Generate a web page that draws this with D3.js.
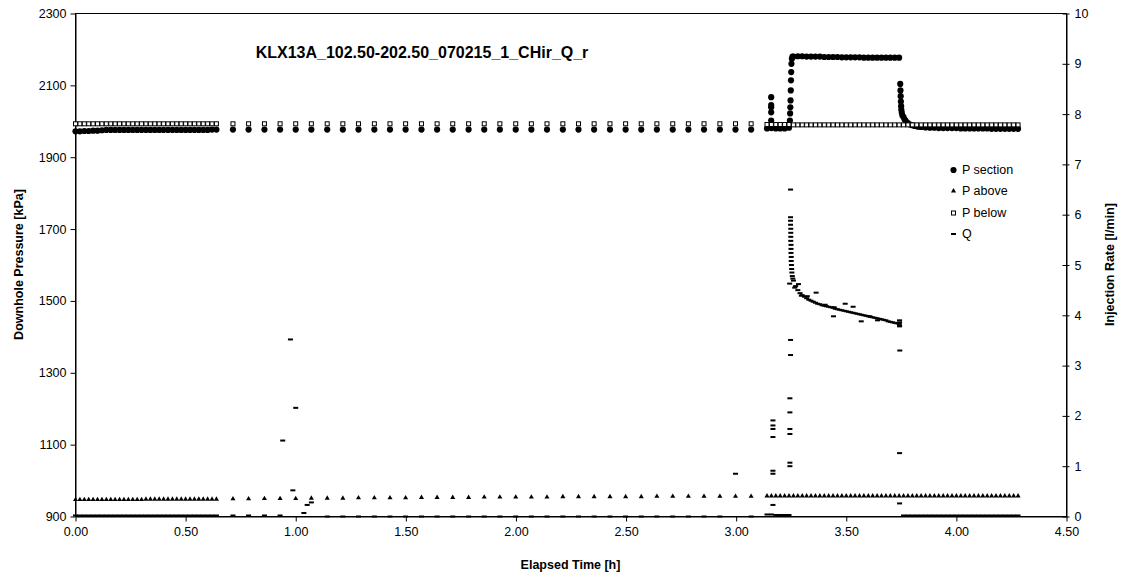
<!DOCTYPE html>
<html>
<head>
<meta charset="utf-8">
<script src="https://cdn.jsdelivr.net/npm/d3@7"></script>
<style>
  html, body { margin: 0; padding: 0; background: #fff; }
  svg { display: block; font-family: "Liberation Sans", Arial, sans-serif; }
</style>
</head>
<body>
<svg id="chart" width="1123" height="579"></svg>
<script>
// ---- Test KLX13A, section 102.50-202.50 m, injection test 2007-02-15 ----

const chartTitle = "KLX13A_102.50-202.50_070215_1_CHir_Q_r";
const seriesNames = ["P section", "P above", "P below", "Q"];

const timeTicks = [0, 0.5, 1, 1.5, 2, 2.5, 3, 3.5, 4, 4.5];
const pressureTicks = [900, 1100, 1300, 1500, 1700, 1900, 2100, 2300];
const rateTicks = [0, 1, 2, 3, 4, 5, 6, 7, 8, 9, 10];

// Logger readings before the injection (hours)
const hoursRest = [
  0.000, 0.020, 0.040, 0.060, 0.080, 0.100, 0.120, 0.140, 0.160, 0.180,
  0.200, 0.220, 0.240, 0.260, 0.280, 0.300, 0.320, 0.340, 0.360, 0.380,
  0.400, 0.420, 0.440, 0.460, 0.480, 0.500, 0.520, 0.540, 0.560, 0.580,
  0.600, 0.620, 0.640,
  0.715, 0.786, 0.858, 0.929, 1.000, 1.071, 1.143, 1.214, 1.285, 1.357,
  1.428, 1.499, 1.571, 1.642, 1.713, 1.785, 1.856, 1.927, 1.999, 2.070,
  2.141, 2.213, 2.284, 2.355, 2.427, 2.498, 2.569, 2.640, 2.712, 2.783,
  2.854, 2.926, 2.997, 3.068
];
const pSectionRest = [
  1972, 1972, 1973, 1973, 1974, 1974, 1975, 1976, 1976, 1976,
  1976, 1976, 1976, 1976, 1976, 1976, 1976, 1976, 1976, 1976,
  1976, 1976, 1976, 1976, 1976, 1976, 1976, 1976, 1976, 1976,
  1976, 1977, 1977,
  1977, 1977, 1977, 1977, 1977, 1977, 1977, 1977, 1977, 1977,
  1977, 1977, 1977, 1977, 1977, 1977, 1977, 1977, 1977, 1977,
  1977, 1977, 1977, 1977, 1977, 1977, 1977, 1977, 1977, 1977,
  1977, 1977, 1977, 1977
];
const pAboveRest = [
  947, 947, 947, 947, 947, 947, 947, 947, 947, 947,
  947, 947, 947, 947, 947, 947, 948, 948, 948, 948,
  948, 948, 948, 948, 948, 948, 948, 948, 948, 948,
  948, 948, 948,
  949, 949, 950, 950, 950, 951, 951, 951, 952, 952,
  952, 952, 953, 953, 953, 953, 954, 954, 954, 954,
  954, 955, 955, 955, 955, 955, 955, 956, 956, 956,
  956, 956, 956, 956
];
const pBelowRest = [
  1993, 1993, 1993, 1993, 1993, 1993, 1993, 1993, 1993, 1993,
  1993, 1993, 1993, 1993, 1993, 1993, 1993, 1993, 1993, 1993,
  1993, 1993, 1993, 1993, 1993, 1993, 1993, 1993, 1993, 1993,
  1993, 1993, 1993,
  1993, 1993, 1993, 1993, 1993, 1993, 1993, 1993, 1993, 1993,
  1993, 1993, 1993, 1993, 1993, 1993, 1993, 1993, 1993, 1993,
  1993, 1993, 1993, 1993, 1993, 1993, 1993, 1993, 1993, 1993,
  1993, 1993, 1993, 1993
];
const qRest = [
  0.02, 0.02, 0.02, 0.02, 0.02, 0.02, 0.02, 0.02, 0.02, 0.02,
  0.02, 0.02, 0.02, 0.02, 0.02, 0.02, 0.02, 0.02, 0.02, 0.02,
  0.02, 0.02, 0.02, 0.02, 0.02, 0.02, 0.02, 0.02, 0.02, 0.02,
  0.02, 0.02, 0.02,
  0.02, 0.02, 0.02, 0.02, 2.16, 0.28, 0.00, 0.00, 0.00, 0.00,
  0.00, 0.00, 0.00, 0.00, 0.00, 0.00, 0.00, 0.00, 0.00, 0.00,
  0.00, 0.00, 0.00, 0.00, 0.00, 0.00, 0.00, 0.00, 0.00, 0.00,
  0.00, 0.00, 0.85, 0.00
];

// Logger readings during injection and recovery (hours)
const hoursTest = [
  3.14, 3.16, 3.18, 3.20, 3.22, 3.24,
  3.26, 3.28, 3.30, 3.32, 3.34, 3.36, 3.38, 3.40, 3.42, 3.44,
  3.46, 3.48, 3.50, 3.52, 3.54, 3.56, 3.58, 3.60, 3.62, 3.64,
  3.66, 3.68, 3.70, 3.72, 3.74,
  3.76, 3.78, 3.80, 3.82, 3.84, 3.86, 3.88, 3.90, 3.92, 3.94,
  3.96, 3.98, 4.00, 4.02, 4.04, 4.06, 4.08, 4.10, 4.12, 4.14,
  4.16, 4.18, 4.20, 4.22, 4.24, 4.26, 4.28
];
const pSectionTest = [
  1980, 1981, 1980, 1980, 1980, 1982,
  2180, 2181, 2181, 2180, 2180, 2180, 2180, 2179, 2179, 2179,
  2179, 2178, 2178, 2178, 2178, 2178, 2177, 2177, 2177, 2177,
  2177, 2177, 2177, 2177, 2177,
  2012, 1995, 1989, 1986, 1984, 1983, 1982, 1982, 1981, 1981,
  1981, 1981, 1981, 1980, 1980, 1980, 1980, 1980, 1980, 1980,
  1979, 1979, 1979, 1979, 1979, 1979, 1979
];
const pAboveTest = [
  957, 957, 957, 957, 957, 957,
  957, 957, 957, 957, 957, 957, 957, 957, 957, 957,
  957, 957, 957, 957, 957, 957, 957, 957, 957, 957,
  957, 957, 957, 957, 957,
  957, 957, 957, 957, 957, 957, 957, 957, 957, 957,
  957, 957, 957, 957, 957, 957, 957, 957, 957, 957,
  957, 957, 957, 957, 957, 957, 957
];
const pBelowTest = [
  1991, 1991, 1991, 1991, 1991, 1991,
  1990, 1990, 1990, 1990, 1990, 1990, 1990, 1990, 1990, 1990,
  1990, 1990, 1990, 1990, 1990, 1990, 1990, 1990, 1990, 1990,
  1990, 1990, 1990, 1990, 1990,
  1990, 1990, 1990, 1990, 1990, 1990, 1990, 1990, 1990, 1990,
  1990, 1990, 1990, 1990, 1990, 1990, 1990, 1990, 1990, 1990,
  1990, 1990, 1990, 1990, 1990, 1990, 1990
];
const qTest = [
  0.04, 0.04, 0.03, 0.03, 0.03, 0.03,
  4.69, 4.50, 4.40, 4.34, 4.29, 4.25, 4.22, 4.19, 4.17, 4.15,
  4.12, 4.10, 4.08, 4.06, 4.04, 4.02, 4.00, 3.98, 3.96, 3.94,
  3.92, 3.90, 3.87, 3.85, 3.83,
  0.02, 0.02, 0.02, 0.02, 0.02, 0.02, 0.02, 0.02, 0.02, 0.02,
  0.02, 0.02, 0.02, 0.02, 0.02, 0.02, 0.02, 0.02, 0.02, 0.02,
  0.02, 0.02, 0.02, 0.02, 0.02, 0.02, 0.02
];

// Fast-logged readings around pressure steps: [hours, kPa]
const pSectionFast = [
  [3.150, 1985], [3.155, 1990], [3.159, 2002], [3.159, 2025], [3.159, 2039],
  [3.159, 2045], [3.159, 2067],
  [3.244, 2002], [3.245, 2022], [3.246, 2039], [3.247, 2058], [3.248, 2086],
  [3.249, 2114], [3.250, 2137], [3.251, 2160], [3.253, 2174], [3.256, 2180],
  [3.745, 2104], [3.746, 2086], [3.747, 2070], [3.748, 2055], [3.749, 2042],
  [3.750, 2032], [3.752, 2024], [3.755, 2016], [3.765, 2005], [3.770, 2001],
  [3.790, 1991], [3.810, 1987], [3.830, 1985]
];
// Fast-logged flow readings: [hours, l/min]
const qFast = [
  [0.941, 1.51], [0.976, 3.52], [0.987, 0.52], [1.037, 0.07], [1.052, 0.23],
  [3.167, 1.91], [3.167, 1.81], [3.167, 1.74], [3.167, 1.58], [3.167, 0.91],
  [3.167, 0.85], [3.167, 0.23],
  [3.244, 2.35], [3.244, 2.07], [3.244, 1.74], [3.244, 1.64], [3.244, 1.07],
  [3.244, 1.00], [3.247, 3.51], [3.247, 3.21],
  [3.247, 6.50], [3.247, 5.95], [3.247, 5.88], [3.247, 5.80], [3.248, 5.72],
  [3.248, 5.64], [3.248, 5.56], [3.248, 5.48], [3.249, 5.40], [3.249, 5.32],
  [3.249, 5.24], [3.250, 5.16], [3.250, 5.08], [3.251, 5.00], [3.252, 4.92],
  [3.253, 4.85], [3.255, 4.78], [3.257, 4.73], [3.243, 4.63],
  [3.27, 4.58], [3.29, 4.44], [3.31, 4.37], [3.33, 4.31], [3.35, 4.27],
  [3.37, 4.23], [3.39, 4.20], [3.41, 4.18], [3.43, 4.16], [3.45, 4.13],
  [3.47, 4.11], [3.49, 4.09], [3.51, 4.07], [3.53, 4.05], [3.55, 4.03],
  [3.57, 4.01], [3.59, 3.99], [3.61, 3.97], [3.63, 3.95], [3.65, 3.93],
  [3.67, 3.91], [3.69, 3.88], [3.71, 3.86], [3.73, 3.84],
  [3.266, 4.55], [3.283, 4.62], [3.296, 4.39], [3.323, 4.38], [3.363, 4.45],
  [3.404, 4.21], [3.445, 4.16], [3.495, 4.23], [3.531, 4.17], [3.442, 3.98],
  [3.568, 3.88], [3.606, 3.98], [3.642, 3.90],
  [3.742, 3.90], [3.742, 3.86], [3.742, 3.80], [3.742, 3.78], [3.743, 3.30],
  [3.742, 1.26], [3.742, 0.26]
];

// ---- layout ----
const svg = d3.select("#chart");
const plotL = 75, plotR = 1066, plotT = 13, plotB = 516;

const x = d3.scaleLinear().domain([0, 4.5]).range([plotL + 0.5, plotR + 0.5]);
const yP = d3.scaleLinear().domain([900, 2300]).range([plotB + 0.5, plotT + 0.5]);
const yQ = d3.scaleLinear().domain([0, 10]).range([plotB + 0.5, plotT + 0.5]);

// plot frame
svg.append("rect")
  .attr("x", plotL + 0.5).attr("y", plotT + 0.5)
  .attr("width", plotR - plotL).attr("height", plotB - plotT)
  .attr("fill", "none").attr("stroke", "#000").attr("stroke-width", 1);

const tickFont = g => g.selectAll("text")
  .attr("font-size", "12.5px").attr("fill", "#000")
  .attr("font-family", '"Liberation Sans", Arial, sans-serif');

// x axis
svg.append("g")
  .attr("transform", `translate(0,${plotB + 0.5})`)
  .call(d3.axisBottom(x).tickValues(timeTicks).tickFormat(d3.format(".2f"))
    .tickSize(5).tickSizeOuter(0).tickPadding(6))
  .call(tickFont)
  .call(g => g.selectAll("line,path").attr("stroke", "#000"));

// left axis
svg.append("g")
  .attr("transform", `translate(${plotL + 0.5},0)`)
  .call(d3.axisLeft(yP).tickValues(pressureTicks).tickFormat(d3.format("d"))
    .tickSize(5).tickSizeOuter(0).tickPadding(4))
  .call(tickFont)
  .call(g => g.selectAll("line,path").attr("stroke", "#000"));

// right axis, cross ticks
svg.append("g")
  .attr("transform", `translate(${plotR + 0.5},0)`)
  .call(d3.axisRight(yQ).tickValues(rateTicks).tickFormat(d3.format("d"))
    .tickSize(3).tickSizeOuter(0).tickPadding(5))
  .call(tickFont)
  .call(g => g.selectAll(".tick").append("line").attr("x1", -4).attr("x2", 0))
  .call(g => g.selectAll("line,path").attr("stroke", "#000"));

// ---- markers ----
const marks = svg.append("g");
const zip = (hs, vs) => hs.map((h, i) => [h, vs[i]]);

const sectionPts = zip(hoursRest, pSectionRest).concat(zip(hoursTest, pSectionTest), pSectionFast);
const abovePts = zip(hoursRest, pAboveRest).concat(zip(hoursTest, pAboveTest));
const belowPts = zip(hoursRest, pBelowRest).concat(zip(hoursTest, pBelowTest));
const qPts = zip(hoursRest, qRest).concat(zip(hoursTest, qTest), qFast);

const circlePath = d3.symbol().type(d3.symbolCircle).size(30)();
const trianglePath = d3.symbol().type(d3.symbolTriangle).size(11)();

const drawSection = (g, pts, sx, sy) => g.selectAll(null).data(pts).join("path")
  .attr("d", circlePath).attr("fill", "#000")
  .attr("transform", d => `translate(${sx(d)},${sy(d)})`);
const drawAbove = (g, pts, sx, sy) => g.selectAll(null).data(pts).join("path")
  .attr("d", trianglePath).attr("fill", "#000")
  .attr("transform", d => `translate(${sx(d)},${sy(d)})`);
const drawBelow = (g, pts, sx, sy) => g.selectAll(null).data(pts).join("rect")
  .attr("x", d => sx(d) - 2).attr("y", d => sy(d) - 2)
  .attr("width", 4).attr("height", 4)
  .attr("fill", "#fff").attr("stroke", "#000").attr("stroke-width", 1);
const drawQ = (g, pts, sx, sy) => g.selectAll(null).data(pts).join("rect")
  .attr("x", d => sx(d) - 2.5).attr("y", d => sy(d) - 1)
  .attr("width", 5).attr("height", 2).attr("fill", "#000");

drawSection(marks.append("g"), sectionPts, d => x(d[0]), d => yP(d[1]));
drawAbove(marks.append("g"), abovePts, d => x(d[0]), d => yP(d[1]));
drawBelow(marks.append("g"), belowPts, d => x(d[0]), d => yP(d[1]));
drawQ(marks.append("g"), qPts, d => x(d[0]), d => yQ(d[1]));

// ---- legend ----
const legendRows = [170, 191, 213, 234];
const lg = svg.append("g");
const drawers = [drawSection, drawAbove, drawBelow, drawQ];
seriesNames.forEach((name, i) => {
  drawers[i](lg.append("g"), [[953.5, legendRows[i]]], d => d[0], d => d[1]);
  lg.append("text").attr("x", 962).attr("y", legendRows[i])
    .attr("dy", "0.35em").attr("font-size", "12.5px").attr("fill", "#000")
    .text(name);
});

// ---- titles ----
svg.append("text").attr("x", 422).attr("y", 52).attr("dy", "0.35em")
  .attr("text-anchor", "middle").attr("font-weight", "bold")
  .attr("font-size", "16px").text(chartTitle);

svg.append("text").attr("x", (plotL + plotR) / 2).attr("y", 565).attr("dy", "0.35em")
  .attr("text-anchor", "middle").attr("font-weight", "bold")
  .attr("font-size", "12.5px").text("Elapsed Time [h]");

svg.append("text")
  .attr("transform", `translate(19,${(plotT + plotB) / 2}) rotate(-90)`)
  .attr("dy", "0.35em").attr("text-anchor", "middle").attr("font-weight", "bold")
  .attr("font-size", "12.5px").text("Downhole Pressure [kPa]");

svg.append("text")
  .attr("transform", `translate(1110,${(plotT + plotB) / 2}) rotate(-90)`)
  .attr("dy", "0.35em").attr("text-anchor", "middle").attr("font-weight", "bold")
  .attr("font-size", "12.5px").text("Injection Rate [l/min]");
</script>
</body>
</html>
